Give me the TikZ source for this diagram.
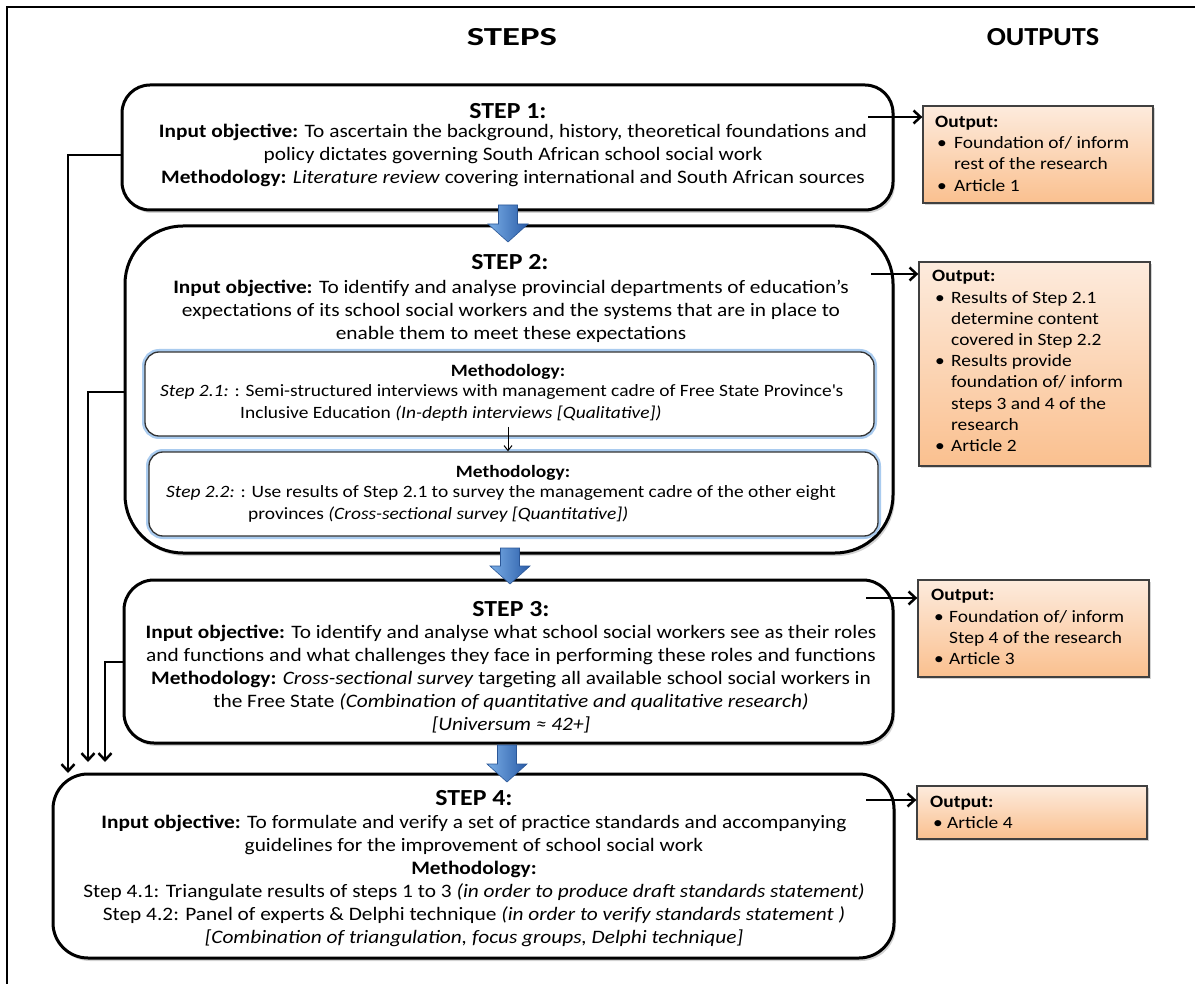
\documentclass[tikz,border=0pt]{standalone}
\usepackage{fontspec}
\setmainfont{Carlito}[FakeStretch=1.123]
\usetikzlibrary{arrows.meta,shadows,calc}
\definecolor{outtop}{HTML}{FDEBDD}
\definecolor{outbot}{HTML}{FAC08F}
\definecolor{glow}{HTML}{A9CBEF}
\definecolor{bluel}{HTML}{7AAEE6}
\definecolor{bluem}{HTML}{4F88D2}
\definecolor{blued}{HTML}{2A5CA8}
\definecolor{blueedge}{HTML}{2B5797}
\tikzset{
  stepbox/.style={draw=black, line width=3pt, fill=white, inner sep=0pt,
    drop shadow={shadow xshift=2pt, shadow yshift=-3pt, opacity=0.35}},
  innerbox/.style={draw=black!80, line width=1.3pt, fill=white, rounded corners=14pt, inner sep=0pt,
    preaction={draw=glow, line width=6pt}},
  outbox/.style={draw=black!75, line width=1.3pt, top color=outtop, bottom color=outbot, inner sep=0pt,
    drop shadow={shadow xshift=2pt, shadow yshift=-2pt, opacity=0.35}},
  body/.style={font=\fontsize{19}{23}\selectfont, align=center, inner sep=0pt},
  oneline/.style={font=\fontsize{17.3}{22}\selectfont, inner sep=0pt, text height=12pt, text depth=4pt},
  steptitle/.style={font=\fontsize{23}{28}\selectfont\bfseries, inner sep=0pt},
  header/.style={font=\fontsize{26}{32}\selectfont\bfseries, inner sep=0pt},
  outtext/.style={font=\fontsize{17.3}{21.2}\selectfont, inner sep=0pt, anchor=west},
  conn/.style={line width=2.5pt, -{Straight Barb[length=7pt,width=13pt]}},
  smallconn/.style={line width=1pt, -{Straight Barb[length=5pt,width=8pt]}},
  barrow/.style={left color=bluel, middle color=bluem, right color=blued, draw=blueedge, line width=0.6pt},
}
\newcommand\blockarrow[2]{%
  \shadedraw[barrow] ($(#1)+(-9.5,0)$) -- ($(#2)+(-9.5,-18)$) -- ($(#2)+(-20,-18)$) -- (#2)
    -- ($(#2)+(20,-18)$) -- ($(#2)+(9.5,-18)$) -- ($(#1)+(9.5,0)$) -- cycle;}
\begin{document}
\begin{tikzpicture}[x=1pt,y=-1pt]
\useasboundingbox (0,0) rectangle (1195,984);
% page frame
\draw[line width=2.4pt] (7,984) -- (7,7) -- (1195,7);
% headers
\node[header] (hsteps) at (512,37) {\scalebox{1.26}[1]{STEPS}};
\node[header] (houts) at (1043,37) {\scalebox{0.97}[1]{OUTPUTS}};
% step boxes
\node[stepbox, rounded corners=28pt, minimum width=771pt, minimum height=125pt] (s1) at (507.5,147.5) {};
\node[stepbox, rounded corners=58pt, minimum width=768pt, minimum height=327pt] (s2) at (509,389.5) {};
\node[innerbox, minimum width=729pt, minimum height=84pt] (i21) at (509.5,394) {};
\node[innerbox, minimum width=729pt, minimum height=84pt] (i22) at (513.5,494) {};
\node[stepbox, rounded corners=30pt, minimum width=769pt, minimum height=163pt] (s3) at (508.5,661.5) {};
\node[stepbox, rounded corners=35pt, minimum width=841pt, minimum height=184pt] (s4) at (473.5,866) {};
% output boxes
\node[outbox, minimum width=230pt, minimum height=97pt] (o1) at (1038,154.5) {};
\node[outbox, minimum width=231pt, minimum height=204pt] (o2) at (1034.5,364) {};
\node[outbox, minimum width=231pt, minimum height=97pt] (o3) at (1033.5,628.5) {};
\node[outbox, minimum width=230pt, minimum height=53pt] (o4) at (1032,812.5) {};
% step 1 text
\node[steptitle] (t1) at (508,111) {STEP 1:};
\node[body] (b1) at (513,155) {\textbf{Input objective:} To ascertain the background, history, theoretical foundations and\\
policy dictates governing South African school social work\\
\textbf{Methodology:} \textit{Literature review} covering international and South African sources};
% step 2 text
\node[steptitle] (t2) at (510,262) {STEP 2:};
\node[body] (b2) at (511,311) {\textbf{Input objective:} To identify and analyse provincial departments of education’s\\
expectations of its school social workers and the systems that are in place to\\
enable them to meet these expectations};
\node[oneline, font=\fontsize{17.3}{22}\selectfont\bfseries] (m21) at (508,373) {Methodology:};
\node[oneline, anchor=west] (l21a) at (160,393) {\textit{Step 2.1:} : Semi-structured interviews with management cadre of Free State Province\textquotesingle s};
\node[oneline, anchor=west] (l21b) at (240,414) {Inclusive Education \textit{(In-depth interviews [Qualitative])}};
\node[oneline, font=\fontsize{17.3}{22}\selectfont\bfseries] (m22) at (513,473) {Methodology:};
\node[oneline, anchor=west] (l22a) at (166,493) {\textit{Step 2.2:} : Use results of Step 2.1 to survey the management cadre of the other eight};
\node[oneline, anchor=west] (l22b) at (248,515) {provinces \textit{(Cross-sectional survey [Quantitative])}};
% step 3 text
\node[steptitle] (t3) at (511,609) {STEP 3:};
\node[body] (b3) at (511,679) {\textbf{Input objective:} To identify and analyse what school social workers see as their roles\\
and functions and what challenges they face in performing these roles and functions\\
\textbf{Methodology:} \textit{Cross-sectional survey} targeting all available school social workers in\\
the Free State \textit{(Combination of quantitative and qualitative research)}\\
\textit{[Universum ≈ 42+]}};
% step 4 text
\node[steptitle] (t4) at (474,798) {STEP 4:};
\node[body] (b4) at (474,881) {\textbf{Input objective:} To formulate and verify a set of practice standards and accompanying\\
guidelines for the improvement of school social work\\
\textbf{Methodology:}\\
Step 4.1: Triangulate results of steps 1 to 3 \textit{(in order to produce draft standards statement)}\\
Step 4.2: Panel of experts \& Delphi technique \textit{(in order to verify standards statement )}\\
\textit{[Combination of triangulation, focus groups, Delphi technique]}};
% output texts
\node[outtext] (ot1) at (935,155) {\begin{tabular}{@{}p{19pt}@{}l@{}}\multicolumn{2}{@{}l@{}}{\textbf{Output:}}\\
\hspace{2pt}\textbullet & Foundation of/ inform\\
 & rest of the research\\
\hspace{2pt}\textbullet & Article 1\end{tabular}};
\node[outtext] (ot2) at (932,362.5) {\begin{tabular}{@{}p{19pt}@{}l@{}}\multicolumn{2}{@{}l@{}}{\textbf{Output:}}\\
\hspace{3pt}\textbullet & Results of Step 2.1\\
 & determine content\\
 & covered in Step 2.2\\
\hspace{3pt}\textbullet & Results provide\\
 & foundation of/ inform\\
 & steps 3 and 4 of the\\
 & research\\
\hspace{3pt}\textbullet & Article 2\end{tabular}};
\node[outtext] (ot3) at (931,628.5) {\begin{tabular}{@{}p{18pt}@{}l@{}}\multicolumn{2}{@{}l@{}}{\textbf{Output:}}\\
\hspace{3pt}\textbullet & Foundation of/ inform\\
 & Step 4 of the research\\
\hspace{3pt}\textbullet & Article 3\end{tabular}};
\node[outtext] (ot4) at (930,813.5) {\begin{tabular}{@{}p{17pt}@{}l@{}}\multicolumn{2}{@{}l@{}}{\textbf{Output:}}\\
\hspace{3pt}\textbullet & Article 4\end{tabular}};
% block arrows between steps
\coordinate (ba1) at (508,205); \coordinate (bb1) at (508,242);
\coordinate (ba2) at (510,548); \coordinate (bb2) at (510,584);
\coordinate (ba3) at (507,745); \coordinate (bb3) at (507,782);
\blockarrow{ba1}{bb1}
\blockarrow{ba2}{bb2}
\blockarrow{ba3}{bb3}
% small arrow 2.1 -> 2.2
\coordinate (sm) at (508,427);
\draw[smallconn] (sm) -- (sm |- i22.north);
% arrows to outputs
\coordinate (a1) at (868,117);
\coordinate (a2) at (871,274);
\coordinate (a3) at (866,598);
\coordinate (a4) at (866,800);
\draw[conn] (a1) -- (a1 -| o1.west);
\draw[conn] (a2) -- (a2 -| o2.west);
\draw[conn] (a3) -- (a3 -| o3.west);
\draw[conn] (a4) -- (a4 -| o4.west);
% left feedback connectors
\coordinate (l1) at (68,155); \coordinate (e1) at (68,773);
\coordinate (l2) at (88,392); \coordinate (e2) at (88,762);
\coordinate (l3) at (105,662); \coordinate (e3) at (105,762);
\draw[conn] (s1.west |- l1) -- (l1) -- (e1);
\draw[conn] (s2.west |- l2) -- (l2) -- (e2);
\draw[conn] (s3.west |- l3) -- (l3) -- (e3);
\end{tikzpicture}
\end{document}
